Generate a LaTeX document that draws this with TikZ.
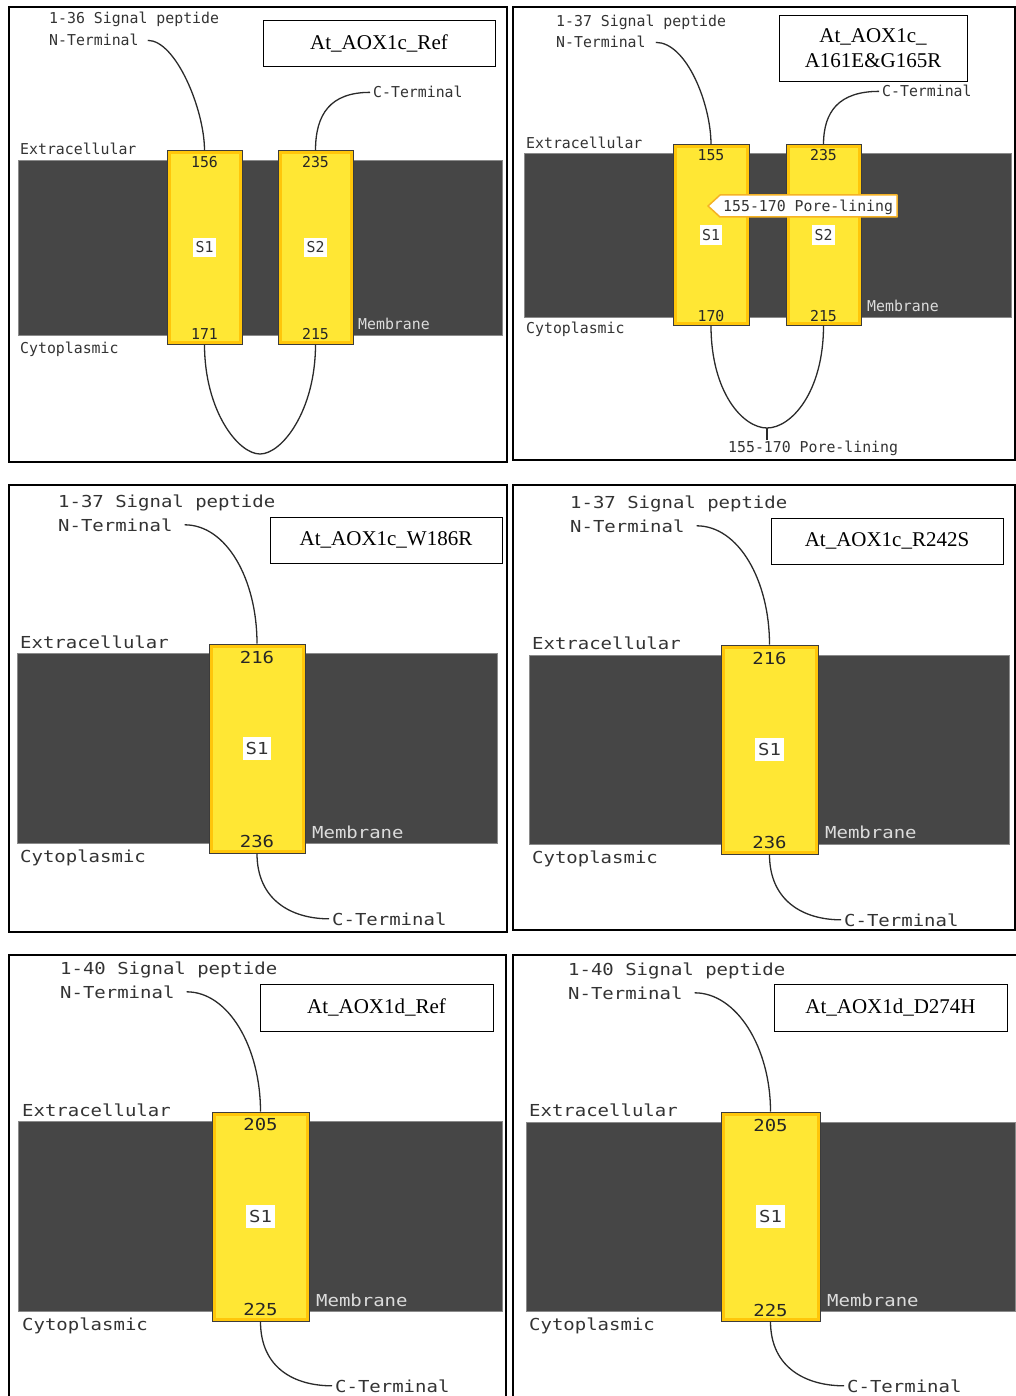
\documentclass[tikz,border=0pt]{standalone}
\usepackage{fontspec}
\newfontfamily\pixA[FakeStretch=0.99]{DejaVu Sans Mono}
\newfontfamily\pixB[FakeStretch=1.15]{DejaVu Sans Mono}
\newfontfamily\ttlfont{Liberation Serif}
\definecolor{memfill}{HTML}{464646}
\definecolor{memedge}{HTML}{8A8A8A}
\definecolor{helixfill}{HTML}{FFE734}
\definecolor{helixedge}{HTML}{3C3C3C}
\definecolor{helixglow}{HTML}{FFC60A}
\definecolor{txtgray}{HTML}{333333}
\definecolor{memtxt}{HTML}{DCDCDC}
\definecolor{conncol}{HTML}{2A2A2A}
\definecolor{calloutcol}{HTML}{F5B225}
\tikzset{
  panel/.style={draw=black, line width=1.8pt},
  mem/.style={fill=memfill, draw=memedge, line width=0.8pt},
  helix/.style={rectangle, fill=helixfill, draw=helixedge, line width=1pt, inner sep=0pt},
  glow/.style={draw=helixglow, line width=3pt},
  lblA/.style={font=\pixA\fontsize{15}{17}\selectfont, text=txtgray, inner sep=0pt, anchor=base west},
  lblB/.style={font=\pixB\fontsize{16.5}{19}\selectfont, text=txtgray, inner sep=0pt, anchor=base west},
  memA/.style={lblA, text=memtxt},
  memB/.style={lblB, text=memtxt},
  numA/.style={font=\pixA\fontsize{15}{17}\selectfont, text=black!85, inner sep=0pt, anchor=base},
  numB/.style={font=\pixB\fontsize{16.5}{19}\selectfont, text=black!85, inner sep=0pt, anchor=base},
  slabA/.style={font=\pixA\fontsize{15}{17}\selectfont, text=txtgray, fill=white, inner xsep=2.5pt, inner ysep=4pt},
  slabB/.style={font=\pixB\fontsize{16.5}{19}\selectfont, text=txtgray, fill=white, inner xsep=3pt, inner ysep=5pt},
  ttl/.style={draw=black, line width=0.9pt, fill=white, font=\ttlfont\fontsize{21}{25}\selectfont, align=center, inner sep=0pt},
  conn/.style={draw=conncol, line width=1.3pt},
  callout/.style={draw=calloutcol, fill=white, line width=1.5pt, line join=round}
}
\begin{document}
\begin{tikzpicture}[x=1pt,y=-1pt]
\useasboundingbox (0,0) rectangle (1016,1396);

%% ================= Panel 1: At_AOX1c_Ref =================
\draw[panel] (9,7) rectangle (507,462);
\path[mem] (18,160) rectangle (502,335);
\node[helix, minimum width=75pt, minimum height=193pt] (a-s1) at (204.5,247.5) {};
\node[helix, minimum width=75pt, minimum height=193pt] (a-s2) at (315.5,247.5) {};
\draw[glow] ([shift={(2.5,2.5)}]a-s1.north west) rectangle ([shift={(-2.5,-2.5)}]a-s1.south east);
\draw[glow] ([shift={(2.5,2.5)}]a-s2.north west) rectangle ([shift={(-2.5,-2.5)}]a-s2.south east);
\node[numA] (a-n1) at (204.5,168) {156};
\node[numA] (a-n2) at (204.5,339) {171};
\node[numA] (a-n3) at (315.5,168) {235};
\node[numA] (a-n4) at (315.5,339) {215};
\node[slabA] (a-l1) at (a-s1.center) {S1};
\node[slabA] (a-l2) at (a-s2.center) {S2};
\node[ttl, minimum width=232pt, minimum height=46pt] (a-title) at (379,43) {At\_AOX1c\_Ref};
\node[lblA] (a-sig) at (49,24) {1-36 Signal peptide};
\node[lblA] (a-nt) at (49,46) {N-Terminal};
\node[lblA] (a-ct) at (373,98) {C-Terminal};
\node[lblA] (a-ex) at (20,155) {Extracellular};
\node[memA] (a-mb) at (358,330) {Membrane};
\node[lblA] (a-cy) at (20,353) {Cytoplasmic};
\coordinate (a-bot) at (260,454);
\draw[conn] ([xshift=9pt]a-nt.east) .. controls +(28,0) and +(0,-41) .. (a-s1.north);
\draw[conn] ([xshift=-3pt]a-ct.west) .. controls +(-40,0) and +(0,-36) .. (a-s2.north);
\draw[conn] (a-s1.south) .. controls +(0,66) and +(-22,0) .. (a-bot) .. controls +(22,0) and +(0,66) .. (a-s2.south);

%% ================= Panel 2: At_AOX1c_A161E&G165R =================
\draw[panel] (513,7) rectangle (1015,460);
\path[mem] (524,153) rectangle (1011,317);
\node[helix, minimum width=76pt, minimum height=180pt] (b-s1) at (711,235) {};
\node[helix, minimum width=75pt, minimum height=180pt] (b-s2) at (823.5,235) {};
\draw[glow] ([shift={(2.5,2.5)}]b-s1.north west) rectangle ([shift={(-2.5,-2.5)}]b-s1.south east);
\draw[glow] ([shift={(2.5,2.5)}]b-s2.north west) rectangle ([shift={(-2.5,-2.5)}]b-s2.south east);
\node[numA] (b-n1) at (711,161) {155};
\node[numA] (b-n2) at (711,321) {170};
\node[numA] (b-n3) at (823.5,161) {235};
\node[numA] (b-n4) at (823.5,321) {215};
\node[slabA] (b-l1) at (b-s1.center) {S1};
\node[slabA] (b-l2) at (b-s2.center) {S2};
\path[callout] (708,206) -- (720,195) -- (897,195) -- (897,217) -- (720,217) -- cycle;
\node[lblA] (b-pl1) at (723,212) {155-170 Pore-lining};
\node[ttl, minimum width=188pt, minimum height=66pt] (b-title) at (873,48) {At\_AOX1c\_\\A161E\&G165R};
\node[lblA] (b-sig) at (556,27) {1-37 Signal peptide};
\node[lblA] (b-nt) at (556,48) {N-Terminal};
\node[lblA] (b-ct) at (882,97) {C-Terminal};
\node[lblA] (b-ex) at (526,149) {Extracellular};
\node[memA] (b-mb) at (867,312) {Membrane};
\node[lblA] (b-cy) at (526,333) {Cytoplasmic};
\node[lblA] (b-pl2) at (728,452) {155-170 Pore-lining};
\coordinate (b-bot) at (767,428);
\draw[conn] ([xshift=10pt]b-nt.east) .. controls +(31,0) and +(0,-40) .. (b-s1.north);
\draw[conn] ([xshift=-3pt]b-ct.west) .. controls +(-40,0) and +(0,-33) .. (b-s2.north);
\draw[conn] (b-s1.south) .. controls +(0,67) and +(-24,0) .. (b-bot) .. controls +(24,0) and +(0,67) .. (b-s2.south);
\draw[conn] (b-bot) -- (b-bot |- b-pl2.north);

%% ================= Panel 3: At_AOX1c_W186R =================
\draw[panel] (9,485) rectangle (507,932);
\path[mem] (17,653) rectangle (497,843);
\node[helix, minimum width=96pt, minimum height=209pt] (c-s1) at (257,748.5) {};
\draw[glow] ([shift={(2.5,2.5)}]c-s1.north west) rectangle ([shift={(-2.5,-2.5)}]c-s1.south east);
\node[numB] (c-n1) at (257,663) {216};
\node[numB] (c-n2) at (257,847) {236};
\node[slabB] (c-l1) at (c-s1.center) {S1};
\node[ttl, minimum width=232pt, minimum height=46pt] (c-title) at (386,540) {At\_AOX1c\_W186R};
\node[lblB] (c-sig) at (58,507) {1-37 Signal peptide};
\node[lblB] (c-nt) at (58,531) {N-Terminal};
\node[lblB] (c-ex) at (20,648) {Extracellular};
\node[memB] (c-mb) at (312,838) {Membrane};
\node[lblB] (c-cy) at (20,862) {Cytoplasmic};
\node[lblB] (c-ct) at (332,925) {C-Terminal};
\draw[conn] ([xshift=12pt]c-nt.east) .. controls +(42,0) and +(0,-64) .. (c-s1.north);
\draw[conn] (c-s1.south) .. controls +(0,47) and +(-37,0) .. ([xshift=-3pt]c-ct.west);

%% ================= Panel 4: At_AOX1c_R242S =================
\draw[panel] (513,485) rectangle (1015,930);
\path[mem] (529,655) rectangle (1009,844);
\node[helix, minimum width=97pt, minimum height=209pt] (d-s1) at (769.5,749.5) {};
\draw[glow] ([shift={(2.5,2.5)}]d-s1.north west) rectangle ([shift={(-2.5,-2.5)}]d-s1.south east);
\node[numB] (d-n1) at (769.5,664) {216};
\node[numB] (d-n2) at (769.5,848) {236};
\node[slabB] (d-l1) at (d-s1.center) {S1};
\node[ttl, minimum width=232pt, minimum height=46pt] (d-title) at (887,541) {At\_AOX1c\_R242S};
\node[lblB] (d-sig) at (570,508) {1-37 Signal peptide};
\node[lblB] (d-nt) at (570,532) {N-Terminal};
\node[lblB] (d-ex) at (532,649) {Extracellular};
\node[memB] (d-mb) at (825,838) {Membrane};
\node[lblB] (d-cy) at (532,863) {Cytoplasmic};
\node[lblB] (d-ct) at (844,926) {C-Terminal};
\draw[conn] ([xshift=12pt]d-nt.east) .. controls +(42,0) and +(0,-64) .. (d-s1.north);
\draw[conn] (d-s1.south) .. controls +(0,47) and +(-37,0) .. ([xshift=-3pt]d-ct.west);

%% ================= Panel 5: At_AOX1d_Ref =================
\draw[panel] (9,1396) -- (9,955) -- (506,955) -- (506,1396);
\path[mem] (18,1121) rectangle (502,1311);
\node[helix, minimum width=97pt, minimum height=209pt] (e-s1) at (260.5,1216.5) {};
\draw[glow] ([shift={(2.5,2.5)}]e-s1.north west) rectangle ([shift={(-2.5,-2.5)}]e-s1.south east);
\node[numB] (e-n1) at (260.5,1130) {205};
\node[numB] (e-n2) at (260.5,1315) {225};
\node[slabB] (e-l1) at (e-s1.center) {S1};
\node[ttl, minimum width=233pt, minimum height=47pt] (e-title) at (376.5,1007.5) {At\_AOX1d\_Ref};
\node[lblB] (e-sig) at (60,974) {1-40 Signal peptide};
\node[lblB] (e-nt) at (60,998) {N-Terminal};
\node[lblB] (e-ex) at (22,1116) {Extracellular};
\node[memB] (e-mb) at (316,1306) {Membrane};
\node[lblB] (e-cy) at (22,1330) {Cytoplasmic};
\node[lblB] (e-ct) at (335,1392) {C-Terminal};
\draw[conn] ([xshift=12pt]e-nt.east) .. controls +(42,0) and +(0,-64) .. (e-s1.north);
\draw[conn] (e-s1.south) .. controls +(0,47) and +(-37,0) .. ([xshift=-3pt]e-ct.west);

%% ================= Panel 6: At_AOX1d_D274H =================
\draw[panel] (513,1396) -- (513,955) -- (1016,955);
\path[mem] (526,1122) rectangle (1015,1311);
\node[helix, minimum width=99pt, minimum height=209pt] (f-s1) at (770.5,1216.5) {};
\draw[glow] ([shift={(2.5,2.5)}]f-s1.north west) rectangle ([shift={(-2.5,-2.5)}]f-s1.south east);
\node[numB] (f-n1) at (770.5,1131) {205};
\node[numB] (f-n2) at (770.5,1316) {225};
\node[slabB] (f-l1) at (f-s1.center) {S1};
\node[ttl, minimum width=233pt, minimum height=47pt] (f-title) at (890.5,1007.5) {At\_AOX1d\_D274H};
\node[lblB] (f-sig) at (568,975) {1-40 Signal peptide};
\node[lblB] (f-nt) at (568,999) {N-Terminal};
\node[lblB] (f-ex) at (529,1116) {Extracellular};
\node[memB] (f-mb) at (827,1306) {Membrane};
\node[lblB] (f-cy) at (529,1330) {Cytoplasmic};
\node[lblB] (f-ct) at (847,1392) {C-Terminal};
\draw[conn] ([xshift=12pt]f-nt.east) .. controls +(42,0) and +(0,-64) .. (f-s1.north);
\draw[conn] (f-s1.south) .. controls +(0,47) and +(-37,0) .. ([xshift=-3pt]f-ct.west);
\end{tikzpicture}
\end{document}
